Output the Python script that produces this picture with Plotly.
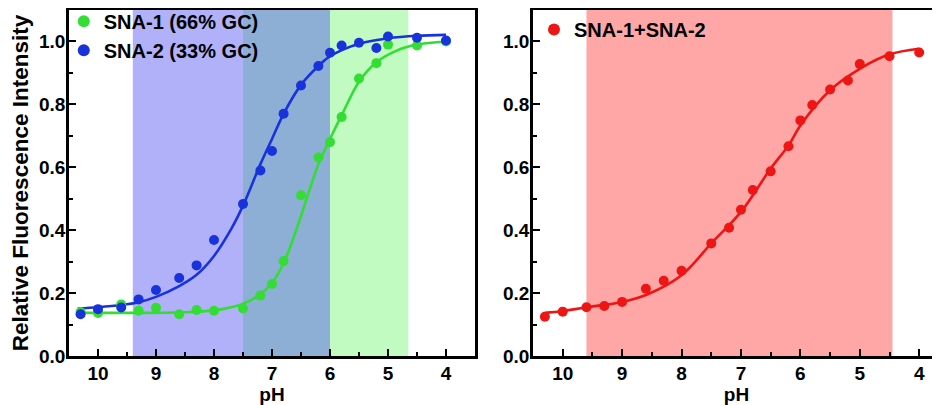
import plotly.graph_objects as go

# ---------------- data ----------------
PH = [10.3, 10.0, 9.6, 9.3, 9.0, 8.6, 8.3, 8.0, 7.5, 7.2, 7.0, 6.8, 6.5, 6.2, 6.0, 5.8, 5.5, 5.2, 5.0, 4.5, 4.0]

SNA1_VALUES = [0.14, 0.137, 0.164, 0.144, 0.153, 0.133, 0.146, 0.144, 0.151, 0.192, 0.229, 0.302,
               0.511, 0.631, 0.68, 0.76, 0.882, 0.931, 0.99, 0.987, 1.0]
SNA2_VALUES = [0.133, 0.149, 0.154, 0.18, 0.21, 0.248, 0.288, 0.369, 0.483, 0.59, 0.652, 0.77,
               0.86, 0.922, 0.964, 0.987, 0.996, 0.979, 1.016, 1.012, 1.003]

MIX_PH = [10.3, 10.0, 9.6, 9.3, 9.0, 8.6, 8.3, 8.0, 7.5, 7.2, 7.0, 6.8, 6.5, 6.2, 6.0, 5.8, 5.5, 5.2, 5.0, 4.5, 4.0]
MIX_VALUES = [0.125, 0.141, 0.155, 0.159, 0.172, 0.214, 0.239, 0.271, 0.358, 0.408, 0.465, 0.528,
              0.587, 0.667, 0.749, 0.798, 0.847, 0.876, 0.928, 0.953, 0.965]

# fitted curves
SNA1_FIT_PH = [10.35, 9.5, 8.5, 8.0, 7.75, 7.5, 7.25, 7.0, 6.8, 6.65, 6.5, 6.35, 6.2, 6.0, 5.8, 5.5, 5.2, 4.85, 4.5, 4.0]
SNA1_FIT = [0.137, 0.137, 0.139, 0.145, 0.153, 0.166, 0.19, 0.232, 0.295, 0.365, 0.445, 0.53, 0.61,
            0.69, 0.765, 0.872, 0.934, 0.971, 0.99, 1.0]
SNA2_FIT_PH = [10.35, 10.0, 9.6, 9.3, 9.0, 8.6, 8.3, 8.0, 7.7, 7.5, 7.2, 7.0, 6.8, 6.5, 6.2, 6.0, 5.5, 5.0, 4.5, 4.0]
SNA2_FIT = [0.151, 0.155, 0.162, 0.171, 0.188, 0.222, 0.258, 0.318, 0.405, 0.478, 0.61, 0.69, 0.77, 0.862,
            0.922, 0.953, 0.993, 1.01, 1.018, 1.021]
MIX_FIT_PH = [10.3, 10.0, 9.6, 9.0, 8.6, 8.0, 7.5, 7.0, 6.5, 6.19, 6.0, 5.5, 5.0, 4.5, 4.0]
MIX_FIT = [0.137, 0.143, 0.155, 0.172, 0.194, 0.257, 0.358, 0.458, 0.596, 0.672, 0.733, 0.845, 0.913, 0.959, 0.977]

# shaded pH windows
SNA2_WINDOW = [9.4, 6.0]
SNA1_WINDOW = [7.5, 4.65]
MIX_WINDOW = [9.6, 4.45]

X_TICKS = [10, 9, 8, 7, 6, 5, 4]
Y_TICKS = [0.0, 0.2, 0.4, 0.6, 0.8, 1.0]

LABEL_SNA1 = "SNA-1 (66% GC)"
LABEL_SNA2 = "SNA-2 (33% GC)"
LABEL_MIX = "SNA-1+SNA-2"

# ---------------- style ----------------
GREEN = "#33DD33"
BLUE = "#1832DC"
RED = "#EE1515"
FONT = "Liberation Sans, Arial, sans-serif"

fig = go.Figure()

# left panel
fig.add_trace(go.Scatter(x=SNA1_FIT_PH, y=SNA1_FIT, mode="lines", line=dict(color=GREEN, width=2.6, shape="spline"),
                         showlegend=False, xaxis="x", yaxis="y", hoverinfo="skip"))
fig.add_trace(go.Scatter(x=SNA2_FIT_PH, y=SNA2_FIT, mode="lines", line=dict(color=BLUE, width=2.6, shape="spline"),
                         showlegend=False, xaxis="x", yaxis="y", hoverinfo="skip"))
fig.add_trace(go.Scatter(x=PH, y=SNA1_VALUES, mode="markers", name=LABEL_SNA1,
                         marker=dict(color=GREEN, size=10), xaxis="x", yaxis="y", legend="legend"))
fig.add_trace(go.Scatter(x=PH, y=SNA2_VALUES, mode="markers", name=LABEL_SNA2,
                         marker=dict(color=BLUE, size=10), xaxis="x", yaxis="y", legend="legend"))

# right panel
fig.add_trace(go.Scatter(x=MIX_FIT_PH, y=MIX_FIT, mode="lines", line=dict(color=RED, width=2.6, shape="spline"),
                         showlegend=False, xaxis="x2", yaxis="y2", hoverinfo="skip"))
fig.add_trace(go.Scatter(x=MIX_PH, y=MIX_VALUES, mode="markers", name=LABEL_MIX,
                         marker=dict(color=RED, size=10), xaxis="x2", yaxis="y2", legend="legend2"))

# shaded windows
overlap = [min(SNA2_WINDOW[0], SNA1_WINDOW[0]), max(SNA2_WINDOW[1], SNA1_WINDOW[1])]
shapes = [
    dict(type="rect", xref="x", yref="y domain", x0=SNA2_WINDOW[0], x1=SNA2_WINDOW[1], y0=0, y1=1,
         fillcolor="#B1B1FA", line_width=0, layer="below"),
    dict(type="rect", xref="x", yref="y domain", x0=SNA1_WINDOW[0], x1=SNA1_WINDOW[1], y0=0, y1=1,
         fillcolor="#C2FBC2", line_width=0, layer="below"),
    dict(type="rect", xref="x", yref="y domain", x0=overlap[0], x1=overlap[1], y0=0, y1=1,
         fillcolor="#8DAFD6", line_width=0, layer="below"),
    dict(type="rect", xref="x2", yref="y2 domain", x0=MIX_WINDOW[0], x1=MIX_WINDOW[1], y0=0, y1=1,
         fillcolor="#FFA6A6", line_width=0, layer="below"),
]

# the page body has an 8px margin, so the figure is laid out in page pixels minus 8
OFF = 8
W, H = 940 - OFF, 405 - OFF
ML, MR, MT = 69 - OFF, 0, 10 - OFF
MB = H - (356 - OFF)
PW = W - ML - MR
d1 = [0, (475 - OFF - ML) / PW]
d2 = [(533 - OFF - ML) / PW, 1]

tickfont = dict(family=FONT, size=19, color="black", weight="bold")
titlefont = dict(family=FONT, size=19, color="black", weight="bold")

def xaxis(domain, rng, anchor):
    return dict(domain=domain, range=rng, anchor=anchor, tickvals=X_TICKS, ticktext=[str(v) for v in X_TICKS],
                ticks="inside", ticklen=7, tickwidth=2.2, tickcolor="black",
                minor=dict(ticks="inside", ticklen=4, tickwidth=2, dtick=0.5, tick0=0, tickcolor="black", showgrid=False),
                showline=True, linewidth=2.6, linecolor="black", mirror=True, showgrid=False, zeroline=False,
                tickfont=tickfont, ticklabelstandoff=-2,
                title=dict(text="pH", font=titlefont, standoff=0))

def yaxis(anchor, mirror, title):
    return dict(domain=[0, 1], range=[0, 1.1], anchor=anchor, tickvals=Y_TICKS,
                ticktext=[f"{v:.1f}" for v in Y_TICKS],
                ticks="inside", ticklen=7, tickwidth=2.2, tickcolor="black",
                minor=dict(ticks="inside", ticklen=4, tickwidth=2, dtick=0.1, tick0=0, tickcolor="black", showgrid=False),
                showline=True, linewidth=2.6, linecolor="black", mirror=mirror, showgrid=False, zeroline=False,
                tickfont=tickfont, ticklabelstandoff=-3,
                title=dict(text=title, font=dict(family=FONT, size=22.5, color="black", weight="bold"), standoff=7))

fig.update_layout(
    width=W, height=H,
    margin=dict(l=ML, r=MR, t=MT, b=MB, autoexpand=False),
    paper_bgcolor="white", plot_bgcolor="white",
    xaxis=xaxis(d1, [10.5, 3.5], "y"),
    yaxis=yaxis("x", True, "Relative Fluorescence Intensity"),
    xaxis2=xaxis(d2, [10.5, 3.65], "y2"),
    yaxis2=yaxis("x2", False, ""),
    shapes=shapes,
    legend=dict(x=-0.006, y=1.024, xanchor="left", yanchor="top", bgcolor="rgba(0,0,0,0)",
                font=dict(family=FONT, size=20, color="black", weight="bold"), tracegroupgap=0, itemsizing="constant"),
    legend2=dict(x=(534 - OFF - ML) / PW, y=1.0, xanchor="left", yanchor="top", bgcolor="rgba(0,0,0,0)",
                 font=dict(family=FONT, size=20, color="black", weight="bold"), itemsizing="constant"),
    showlegend=True,
)

fig.write_html("out.html")
